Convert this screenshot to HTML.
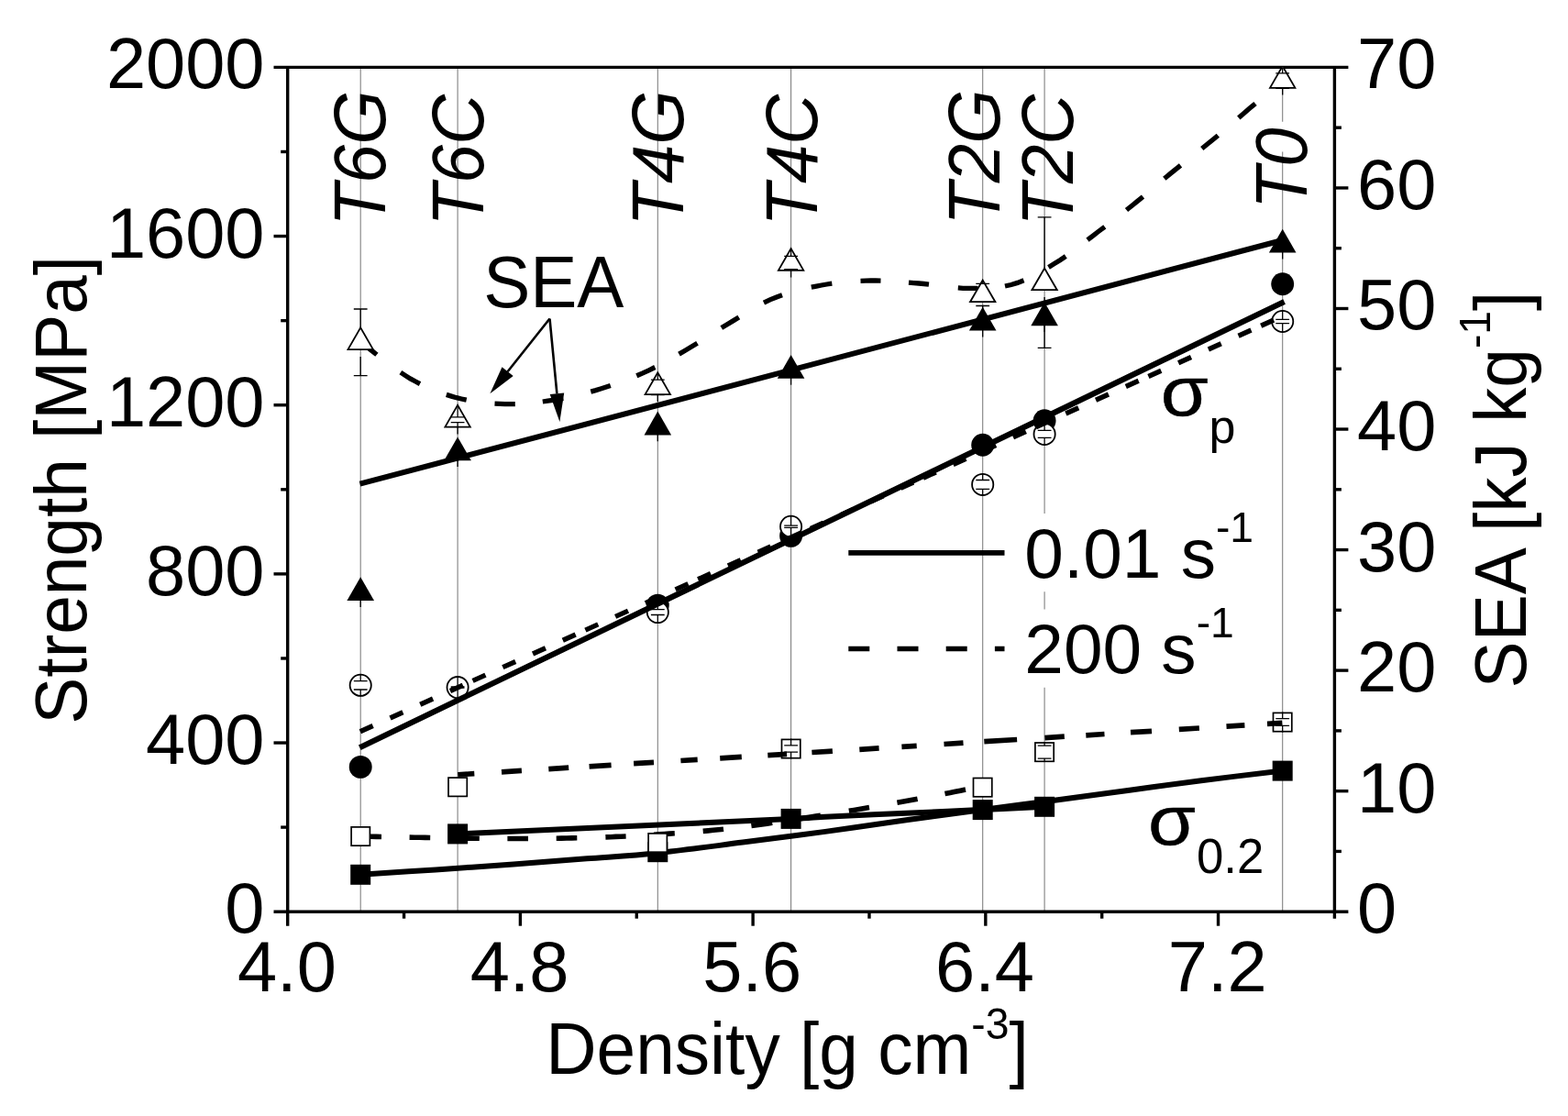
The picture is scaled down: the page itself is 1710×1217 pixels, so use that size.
<!DOCTYPE html>
<html lang="en">
<head>
<meta charset="utf-8">
<title>Strength and SEA versus density</title>
<style>
html,body{margin:0;padding:0;background:#fff;}
body{width:1710px;height:1217px;overflow:hidden;}
svg{display:block;}
text{font-family:"Liberation Sans",sans-serif;}
</style>
</head>
<body>
<svg width="1710" height="1217" viewBox="0 0 1710 1217">
<rect width="1710" height="1217" fill="#fff"/>
<g id="droplines" stroke="#808080" stroke-width="1.1" fill="none">
<line x1="393.2" y1="73.4" x2="393.2" y2="994.2"/>
<line x1="499.1" y1="73.4" x2="499.1" y2="994.2"/>
<line x1="717.3" y1="73.4" x2="717.3" y2="994.2"/>
<line x1="862.6" y1="73.4" x2="862.6" y2="994.2"/>
<line x1="1071.7" y1="73.4" x2="1071.7" y2="994.2"/>
<line x1="1139.1" y1="73.4" x2="1139.1" y2="560"/>
<line x1="1139.1" y1="645.3" x2="1139.1" y2="664.6"/>
<line x1="1139.1" y1="749.8" x2="1139.1" y2="994.2"/>
<line x1="1398.7" y1="73.4" x2="1398.7" y2="132.7"/>
<line x1="1398.7" y1="165.5" x2="1398.7" y2="994.2"/>
</g>
<g id="axes" stroke="#000" stroke-width="3.4" fill="none" stroke-linecap="butt">
<line x1="298.5" y1="73.4" x2="1470.4" y2="73.4"/>
<line x1="298.5" y1="994.2" x2="1470.4" y2="994.2"/>
<line x1="313.7" y1="73.4" x2="313.7" y2="1009.7"/>
<line x1="1455.4" y1="73.4" x2="1455.4" y2="1001.7"/>
<line x1="298.5" y1="810.04" x2="313.7" y2="810.04"/>
<line x1="298.5" y1="625.88" x2="313.7" y2="625.88"/>
<line x1="298.5" y1="441.72" x2="313.7" y2="441.72"/>
<line x1="298.5" y1="257.56" x2="313.7" y2="257.56"/>
<line x1="306.2" y1="902.12" x2="313.7" y2="902.12"/>
<line x1="306.2" y1="717.96" x2="313.7" y2="717.96"/>
<line x1="306.2" y1="533.80" x2="313.7" y2="533.80"/>
<line x1="306.2" y1="349.64" x2="313.7" y2="349.64"/>
<line x1="306.2" y1="165.48" x2="313.7" y2="165.48"/>
<line x1="1455.4" y1="862.66" x2="1470.4" y2="862.66"/>
<line x1="1455.4" y1="731.11" x2="1470.4" y2="731.11"/>
<line x1="1455.4" y1="599.57" x2="1470.4" y2="599.57"/>
<line x1="1455.4" y1="468.03" x2="1470.4" y2="468.03"/>
<line x1="1455.4" y1="336.49" x2="1470.4" y2="336.49"/>
<line x1="1455.4" y1="204.94" x2="1470.4" y2="204.94"/>
<line x1="1455.4" y1="928.43" x2="1462.9" y2="928.43"/>
<line x1="1455.4" y1="796.89" x2="1462.9" y2="796.89"/>
<line x1="1455.4" y1="665.34" x2="1462.9" y2="665.34"/>
<line x1="1455.4" y1="533.80" x2="1462.9" y2="533.80"/>
<line x1="1455.4" y1="402.26" x2="1462.9" y2="402.26"/>
<line x1="1455.4" y1="270.71" x2="1462.9" y2="270.71"/>
<line x1="1455.4" y1="139.17" x2="1462.9" y2="139.17"/>
<line x1="567.41" y1="994.2" x2="567.41" y2="1009.7"/>
<line x1="821.12" y1="994.2" x2="821.12" y2="1009.7"/>
<line x1="1074.83" y1="994.2" x2="1074.83" y2="1009.7"/>
<line x1="1328.54" y1="994.2" x2="1328.54" y2="1009.7"/>
<line x1="440.56" y1="994.2" x2="440.56" y2="1001.7"/>
<line x1="694.27" y1="994.2" x2="694.27" y2="1001.7"/>
<line x1="947.98" y1="994.2" x2="947.98" y2="1001.7"/>
<line x1="1201.69" y1="994.2" x2="1201.69" y2="1001.7"/>
</g>
<g id="ticklabels" font-size="77.6" fill="#000">
<text x="288.5" y="1017.1" text-anchor="end">0</text>
<text x="288.5" y="832.9" text-anchor="end">400</text>
<text x="288.5" y="648.8" text-anchor="end">800</text>
<text x="288.5" y="464.6" text-anchor="end">1200</text>
<text x="288.5" y="280.5" text-anchor="end">1600</text>
<text x="288.5" y="96.3" text-anchor="end">2000</text>
<text x="1480.0" y="1017.1">0</text>
<text x="1480.0" y="885.6">10</text>
<text x="1480.0" y="754.0">20</text>
<text x="1480.0" y="622.5">30</text>
<text x="1480.0" y="490.9">40</text>
<text x="1480.0" y="359.4">50</text>
<text x="1480.0" y="227.8">60</text>
<text x="1480.0" y="96.3">70</text>
<text x="312.9" y="1081.2" text-anchor="middle">4.0</text>
<text x="566.6" y="1081.2" text-anchor="middle">4.8</text>
<text x="820.3" y="1081.2" text-anchor="middle">5.6</text>
<text x="1074.0" y="1081.2" text-anchor="middle">6.4</text>
<text x="1327.7" y="1081.2" text-anchor="middle">7.2</text>
</g>
<g id="titles" font-size="76.6" fill="#000">
<text transform="translate(94,534.3) rotate(-90) scale(1,1.03)" text-anchor="middle">Strength [MPa]</text>
<text transform="translate(1663.5,534) rotate(-90) scale(1,1.03)" text-anchor="middle">SEA [kJ kg<tspan dy="-36.9" font-size="46.3">-1</tspan><tspan dy="36.9">]</tspan></text>
<text transform="translate(595.3,1171) scale(1,1.03)">Density [g cm<tspan dy="-36.9" font-size="46.3">-3</tspan><tspan dy="36.9">]</tspan></text>
</g>
<g id="sea-curve" stroke="#000" fill="none">
<path d="M393.3 373L399.2 377.5L405 382.1L410.9 386.8M436.9 406.1L442.2 409.6L447.4 412.9L452.7 415.8L458 418.6M486.8 430.4L492.3 432.1L497.8 433.7L503.2 435L508.7 436.2M539.5 440.1L545.1 440.4L550.6 440.6L556.2 440.7L561.8 440.6M591.8 438L597.4 437.2L603 436.3L608.7 435.3L614.3 434.3M644.3 427.1L649.7 425.6L655 424L660.4 422.3L665.8 420.5M694.3 409.8L701 406.9L707.6 403.8L714.3 400.5M740.5 386.1L747.2 382.2L753.8 378.3L760.5 374.3M786.8 357.6L793.1 353.7L799.5 349.9L805.8 346M833 330.1L839.7 326.9L846.3 324.2L853 321.8M884.8 313.2L890.4 312.1L896 311L901.7 310L907.3 309.2M938.5 306.3L944 306.1L949.5 306L955 306L960.5 306.1M991 308.1L996.5 308.6L1002 309L1007.5 309.5L1013 310.2M1044.8 313.9L1050.2 314.3L1055.7 314.4L1061.1 314.4L1066.5 314.4M1096 312L1102.8 310.5L1109.7 308.4L1116.5 305.8M1143.5 291.4L1149.8 287.6L1156 283.7L1162.3 279.5M1186 261.6L1192.3 256.8L1198.5 252L1204.8 247.3M1228.5 229L1234.5 224.2L1240.5 219.4L1246.5 214.5M1269.8 194.8L1275.7 189.9L1281.6 185.1L1287.5 180.4M1310.8 162L1316.6 157.3L1322.5 152.5L1328.3 147.7M1350.8 128.5L1356.9 123.3L1362.9 118.1L1369 113" stroke-width="5.3"/>
</g>
<g id="s02-dashed-g" stroke="#000" fill="none">
<path d="M393.3 912L399 912.1L404.6 912.2L410.3 912.4L416 912.5M446.6 913.1L452.2 913.2L457.9 913.3L463.6 913.4L469.2 913.5M499.3 914L505.2 914.1L511 914.1L516.9 914.2L522.8 914.3M553.4 914.5L559 914.5L564.7 914.5L570.4 914.5L576 914.5M606.7 914.2L612.4 914.1L618 914L623.6 913.9L629.3 913.8M660.4 912.9L666 912.7L671.5 912.4L677 912.2L682.6 912M713 910.3L718.7 909.9L724.4 909.5L730.1 909.1L735.8 908.8M766.7 906.4L772.3 905.9L777.9 905.3L783.4 904.8L789 904.2M819.4 900.6L825.1 899.8L830.8 899L836.5 898.2L842.2 897.3M873 892.7L878.5 891.8L884 890.9L889.5 890.1L895 889.2M925.8 884.3L931.3 883.4L936.9 882.4L942.5 881.5L948 880.6M978.4 875.3L984 874.3L989.5 873.3L995 872.3L1000.6 871.2M1030.5 865.5L1036.1 864.4L1041.8 863.3L1047.4 862.2L1053 861.1" stroke-width="5.6"/>
</g>
<g id="s02-solid" stroke="#000" fill="none" stroke-width="6" stroke-linejoin="round">
<path d="M393.2 953.8C406.8 952.9 447.2 950.3 475 948.4C502.8 946.5 532.5 944.4 560 942.4C587.5 940.4 613.8 938.3 640 936.3C666.2 934.3 689 933.2 717.3 930.2C745.6 927.2 779.5 922.5 810 918.6C840.5 914.7 870 911 900 906.9C930 902.8 961.4 898 990 894C1018.6 890 1045 886.5 1071.7 883C1098.4 879.5 1123.6 876.2 1150 872.7C1176.4 869.2 1203.3 865.6 1230 862C1256.7 858.4 1281.9 854.8 1310 851.2C1338.1 847.6 1383.9 842.4 1398.7 840.6"/>
<path d="M499.1 909.4C529.2 908 619.4 904 680 901.2C740.6 898.5 825.9 894.6 862.6 892.9C899.3 891.1 877.1 891.8 900 890.7C922.9 889.6 973.5 887.4 1000 886.2C1026.5 885 1035.8 884.6 1059 883.5C1082.2 882.4 1125.8 880.4 1139.1 879.8"/>
</g>
<clipPath id="frame"><rect x="313.7" y="73.4" width="1141.7" height="920.8000000000001"/></clipPath>
<g id="symbols" clip-path="url(#frame)">
<rect x="382.2" y="942.8" width="22.0" height="22.0" fill="#000"/>
<rect x="488.1" y="898.4" width="22.0" height="22.0" fill="#000"/>
<rect x="706.3" y="918.2" width="22.0" height="22.0" fill="#000"/>
<rect x="851.6" y="881.9" width="22.0" height="22.0" fill="#000"/>
<rect x="1060.7" y="872.1" width="22.0" height="22.0" fill="#000"/>
<rect x="1128.1" y="868.8" width="22.0" height="22.0" fill="#000"/>
<rect x="1387.7" y="829.6" width="22.0" height="22.0" fill="#000"/>
<circle cx="393.2" cy="836.4" r="12.45" fill="#000"/>
<circle cx="717.3" cy="660.1" r="12.45" fill="#000"/>
<circle cx="862.6" cy="584.4" r="12.45" fill="#000"/>
<circle cx="1071.7" cy="485.2" r="12.45" fill="#000"/>
<circle cx="1139.1" cy="458.8" r="12.45" fill="#000"/>
<circle cx="1398.7" cy="309.7" r="12.45" fill="#000"/>
<polygon points="378.4,655.1 408,655.1 393.2,629.2" fill="#000"/>
<path d="M393.2 646.5V662M393.2 646.5H393.2" stroke="#000" stroke-width="1.3" fill="none"/>
<polygon points="484.3,502.2 513.9,502.2 499.1,476.4" fill="#000"/>
<path d="M499.1 493.6V509.1M499.1 493.6H499.1" stroke="#000" stroke-width="1.3" fill="none"/>
<polygon points="702.5,474.4 732.1,474.4 717.3,448.6" fill="#000"/>
<path d="M717.3 465.8V481.3M717.3 465.8H717.3" stroke="#000" stroke-width="1.3" fill="none"/>
<polygon points="847.8,412.8 877.4,412.8 862.6,387" fill="#000"/>
<path d="M862.6 404.2V419.7M862.6 404.2H862.6" stroke="#000" stroke-width="1.3" fill="none"/>
<polygon points="1056.9,360.5 1086.5,360.5 1071.7,334.7" fill="#000"/>
<path d="M1071.7 351.9V367.4M1071.7 351.9H1071.7" stroke="#000" stroke-width="1.3" fill="none"/>
<polygon points="1124.3,355.2 1153.9,355.2 1139.1,329.4" fill="#000"/>
<path d="M1139.1 346.6V362.1M1139.1 346.6H1139.1" stroke="#000" stroke-width="1.3" fill="none"/>
<polygon points="1383.9,275.5 1413.5,275.5 1398.7,249.7" fill="#000"/>
<path d="M1398.7 266.9V282.4M1398.7 266.9H1398.7" stroke="#000" stroke-width="1.3" fill="none"/>
<rect x="383.1" y="901.9" width="20.3" height="20.3" fill="#fff" stroke="#000" stroke-width="1.7"/>
<rect x="489" y="848.1" width="20.3" height="20.3" fill="#fff" stroke="#000" stroke-width="1.7"/>
<rect x="707.1" y="908.9" width="20.3" height="20.3" fill="#fff" stroke="#000" stroke-width="1.7"/>
<rect x="852.5" y="806.4" width="20.3" height="20.3" fill="#fff" stroke="#000" stroke-width="1.7"/>
<path d="M862.6 812.9V805.5M855.2 812.9H870M862.6 820.1V827.5M855.2 820.1H870" stroke="#000" stroke-width="1.3" fill="none"/>
<rect x="1061.5" y="848.5" width="20.3" height="20.3" fill="#fff" stroke="#000" stroke-width="1.7"/>
<rect x="1128.9" y="810" width="20.3" height="20.3" fill="#fff" stroke="#000" stroke-width="1.7"/>
<path d="M1139.1 813.1V809.1M1131.7 813.1H1146.5M1139.1 827.1V831.1M1131.7 827.1H1146.5" stroke="#000" stroke-width="1.3" fill="none"/>
<rect x="1388.5" y="777.4" width="20.3" height="20.3" fill="#fff" stroke="#000" stroke-width="1.7"/>
<path d="M1398.7 783.6V776.5M1391.3 783.6H1406.1M1398.7 791.4V798.5M1391.3 791.4H1406.1" stroke="#000" stroke-width="1.3" fill="none"/>
<circle cx="393.2" cy="747.3" r="11.6" fill="#fff" stroke="#000" stroke-width="1.8"/>
<path d="M393.2 742.6V735M385.8 742.6H400.6M393.2 752V759.6M385.8 752H400.6" stroke="#000" stroke-width="1.3" fill="none"/>
<circle cx="499.1" cy="749.6" r="11.6" fill="#fff" stroke="#000" stroke-width="1.8"/>
<path d="M499.1 749V737.3M491.7 749H506.5M499.1 750.2V761.9M491.7 750.2H506.5" stroke="#000" stroke-width="1.3" fill="none"/>
<circle cx="717.3" cy="667.6" r="11.6" fill="#fff" stroke="#000" stroke-width="1.8"/>
<path d="M717.3 664.7V655.3M709.9 664.7H724.7M717.3 670.5V679.9M709.9 670.5H724.7" stroke="#000" stroke-width="1.3" fill="none"/>
<circle cx="862.6" cy="574.3" r="11.6" fill="#fff" stroke="#000" stroke-width="1.8"/>
<path d="M862.6 573.1V562M855.2 573.1H870M862.6 575.4V586.6M855.2 575.4H870" stroke="#000" stroke-width="1.3" fill="none"/>
<circle cx="1071.7" cy="528.4" r="11.6" fill="#fff" stroke="#000" stroke-width="1.8"/>
<path d="M1071.7 523.5V516.1M1064.3 523.5H1079.1M1071.7 533.3V540.7M1064.3 533.3H1079.1" stroke="#000" stroke-width="1.3" fill="none"/>
<circle cx="1139.1" cy="473.4" r="11.6" fill="#fff" stroke="#000" stroke-width="1.8"/>
<path d="M1139.1 469.4V461.1M1131.7 469.4H1146.5M1139.1 477.4V485.7M1131.7 477.4H1146.5" stroke="#000" stroke-width="1.3" fill="none"/>
<circle cx="1398.7" cy="350.5" r="11.6" fill="#fff" stroke="#000" stroke-width="1.8"/>
<path d="M1398.7 348.4V338.2M1391.3 348.4H1406.1M1398.7 352.6V362.8M1391.3 352.6H1406.1" stroke="#000" stroke-width="1.3" fill="none"/>
<polygon points="379.5,381.1 406.9,381.1 393.2,357.4" fill="#fff" stroke="#000" stroke-width="1.8" stroke-linejoin="miter"/>
<path d="M393.2 337V357.9M385.8 337H400.6M393.2 409.6V388.9M385.8 409.6H400.6" stroke="#000" stroke-width="1.3" fill="none"/>
<polygon points="485.4,465.6 512.8,465.6 499.1,441.9" fill="#fff" stroke="#000" stroke-width="1.8" stroke-linejoin="miter"/>
<path d="M499.1 454.8V442.4M491.7 454.8H506.5M499.1 460.6V473.4M491.7 460.6H506.5" stroke="#000" stroke-width="1.3" fill="none"/>
<polygon points="703.6,430.1 731,430.1 717.3,406.4" fill="#fff" stroke="#000" stroke-width="1.8" stroke-linejoin="miter"/>
<path d="M717.3 414.1V406.9M709.9 414.1H724.7M717.3 430.7V437.9M709.9 430.7H724.7" stroke="#000" stroke-width="1.3" fill="none"/>
<polygon points="848.9,294.8 876.3,294.8 862.6,271.1" fill="#fff" stroke="#000" stroke-width="1.8" stroke-linejoin="miter"/>
<path d="M862.6 279.3V271.6M855.2 279.3H870M862.6 293.7V302.6M855.2 293.7H870" stroke="#000" stroke-width="1.3" fill="none"/>
<polygon points="1058,329.2 1085.4,329.2 1071.7,305.5" fill="#fff" stroke="#000" stroke-width="1.8" stroke-linejoin="miter"/>
<path d="M1071.7 309.3V306M1064.3 309.3H1079.1M1071.7 333.5V337M1064.3 333.5H1079.1" stroke="#000" stroke-width="1.3" fill="none"/>
<polygon points="1125.4,316.2 1152.8,316.2 1139.1,292.5" fill="#fff" stroke="#000" stroke-width="1.8" stroke-linejoin="miter"/>
<path d="M1139.1 236.9V293M1131.7 236.9H1146.5M1139.1 379.4V324M1131.7 379.4H1146.5" stroke="#000" stroke-width="1.3" fill="none"/>
<polygon points="1385,95.8 1412.4,95.8 1398.7,72.1" fill="#fff" stroke="#000" stroke-width="1.8" stroke-linejoin="miter"/>
<path d="M1398.7 79.8V72.6M1391.3 79.8H1406.1M1398.7 96.4V103.6M1391.3 96.4H1406.1" stroke="#000" stroke-width="1.3" fill="none"/>
</g>
<g id="fits" stroke="#000" fill="none" stroke-linecap="butt" stroke-linejoin="round">
<line x1="392.5" y1="527.7" x2="1398.5" y2="262" stroke-width="6"/>
<line x1="392.3" y1="815.2" x2="1400.6" y2="329" stroke-width="6.2"/>
<path d="M392.8 797.8L515.6 742.4M515.6 742.4L638.4 687.1M638.4 687.1L761.2 631.8M761.2 631.8L884 576.5M884 576.5L1006.8 521.2M1006.8 521.2L1129.6 465.8M1129.6 465.8L1252.4 410.5M1252.4 410.5L1375.2 355.2M1375.2 355.2L1398.6 344.6" stroke-width="5.4" stroke-dasharray="15.2 20.7"/>
<path d="M499.3 844.8L517.3 843.7M547 841.8L568.9 840.4M598.3 838.6L620.2 837.2M642.6 835.8L666.6 834.3M691.1 832.7L713 831.4M742.4 829.5L760.7 828.4M785.2 826.8L808.8 825.4M837.3 823.6L858.1 822.3M885.4 820.5L907.9 819.1M937.3 817.3L958.6 815.9M983.4 814.4L999.7 813.4M1029.5 811.5L1050.5 810.2M1073.3 808.7L1109.1 806.5M1139.4 804.6L1160.8 803.2M1184.3 801.8L1204.5 800.5M1233 798.7L1256 797.3M1285.8 795.4L1307.9 794M1337.5 792.1L1357.4 790.9M1382 789.3L1398.4 788.3" stroke-width="5.7"/>
</g>
<g id="labels" font-size="76.6" fill="#000">
<text transform="translate(419.9,246.4) rotate(-90) scale(0.993,1.047)" font-style="italic">T6G</text>
<text transform="translate(527.1,246.4) rotate(-90) scale(0.993,1.047)" font-style="italic">T6C</text>
<text transform="translate(745.3,246.4) rotate(-90) scale(0.993,1.047)" font-style="italic">T4G</text>
<text transform="translate(891.2,246.4) rotate(-90) scale(0.993,1.047)" font-style="italic">T4C</text>
<text transform="translate(1090.2,245.6) rotate(-90) scale(0.993,1.047)" font-style="italic">T2G</text>
<text transform="translate(1170.3,246.4) rotate(-90) scale(0.993,1.047)" font-style="italic">T2C</text>
<text transform="translate(1425.2,228.1) rotate(-90) scale(0.993,1.047)" font-style="italic">T0</text>
<text transform="translate(527.2,335) scale(1,1.03)">SEA</text>
<text x="1117.3" y="629.8">0.01 s<tspan dy="-38.5" font-size="46.3">-1</tspan></text>
<text x="1117.3" y="733.9">200 s<tspan dy="-38.5" font-size="46.3">-1</tspan></text>
<text transform="translate(1265.7,452.8) scale(1.055,0.945)" font-size="80" stroke="#000" stroke-width="0.5">σ</text>
<text x="1318.4" y="483" font-size="52">p</text>
<text transform="translate(1251.9,921.3) scale(1.055,0.945)" font-size="80" stroke="#000" stroke-width="0.5">σ</text>
<text x="1304.9" y="952" font-size="52.8">0.2</text>
</g>
<g id="legend" stroke="#000" fill="none">
<line x1="925.3" y1="602.9" x2="1095.5" y2="602.9" stroke-width="5.8"/>
<line x1="925.3" y1="707.5" x2="1095.5" y2="707.5" stroke-width="5.6" stroke-dasharray="23 30.2"/>
</g>
<g id="arrows">
<line x1="599.5" y1="347.5" x2="553.6" y2="405.2" stroke="#000" stroke-width="2.6"/><polygon points="534.4,429.3 547.5,400.3 559.7,410.1" fill="#000"/>
<line x1="599.5" y1="347.5" x2="607.4" y2="429.3" stroke="#000" stroke-width="2.6"/><polygon points="610.4,460.0 599.7,430.1 615.2,428.6" fill="#000"/>
</g>
</svg>
</body>
</html>
